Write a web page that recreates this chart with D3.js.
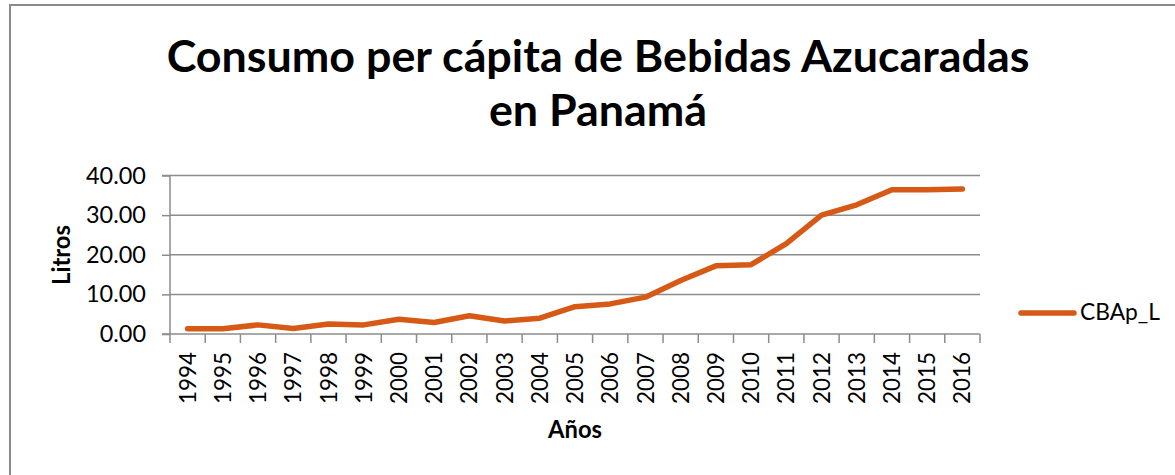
<!DOCTYPE html>
<html><head><meta charset="utf-8">
<script src="https://cdn.jsdelivr.net/npm/d3@7"></script>
<style>body{margin:0;background:#fff}svg{display:block}text{font-family:Lato,"Open Sans",sans-serif;fill:#000}</style>
</head><body><svg id="c" width="1175" height="475"></svg>
<script>
const years = ["1994","1995","1996","1997","1998","1999","2000","2001","2002","2003","2004","2005","2006","2007","2008","2009","2010","2011","2012","2013","2014","2015","2016"];
const values = [1.3,1.3,2.3,1.4,2.5,2.3,3.7,2.9,4.6,3.3,4.0,6.9,7.6,9.3,13.5,17.2,17.5,22.8,30.0,32.6,36.4,36.4,36.6];
const yTicks = [0,10,20,30,40];
const titleLines = ["Consumo per cápita de Bebidas Azucaradas","en Panamá"];
const seriesName = "CBAp_L";

const svg = d3.select("#c");
const W = 1175, H = 475;
const m = {left:170, right:980, top:175.5, bottom:334};
const color = "#d65a16", grid = "#8c8c8c";

svg.append("rect").attr("x",10).attr("y",5).attr("width",W+20).attr("height",H+20)
  .attr("fill","none").attr("stroke","#8a8a8a").attr("stroke-width",2);

const x = d3.scaleBand().domain(years).range([m.left,m.right]);
const y = d3.scaleLinear().domain([0,40]).range([m.bottom,m.top]);

function fitSize(t, target){
  const w = t.node().getComputedTextLength();
  const fs = parseFloat(t.attr("font-size"));
  return fs*target/w;
}

svg.append("g").selectAll("line").data(yTicks.filter(d=>d>0)).join("line")
  .attr("x1",m.left).attr("x2",m.right).attr("y1",d=>y(d)).attr("y2",d=>y(d))
  .attr("stroke",grid).attr("stroke-width",1.5);

const ya = svg.append("g").attr("transform",`translate(${m.left},0)`)
  .call(d3.axisLeft(y).tickValues(yTicks).tickSize(8).tickPadding(16).tickFormat(d3.format(".2f")));
ya.select(".domain").attr("stroke",grid).attr("stroke-width",1.5).attr("d",`M-8,${m.bottom}H0V${m.top}H-8`);
ya.selectAll(".tick line").attr("stroke",grid).attr("stroke-width",1.5);
const yts = ya.selectAll(".tick text").attr("font-family","Lato").attr("font-size",22).attr("fill","#000");
const yfs = fitSize(ya.selectAll(".tick text").filter(d=>d===40), 60);
yts.attr("font-size", yfs);

const xa = svg.append("g").attr("transform",`translate(0,${m.bottom})`)
  .call(d3.axisBottom(x).tickSize(0).tickPadding(0));
xa.select(".domain").attr("stroke",grid).attr("stroke-width",1.5).attr("d",`M${m.left},0H${m.right}`);
const xts = xa.selectAll(".tick text").attr("font-family","Lato").attr("font-size",22).attr("fill","#000")
  .attr("transform","rotate(-90)").attr("text-anchor","end").attr("dy","0.36em").attr("x",-18).attr("y",0);
const xfs = fitSize(xa.selectAll(".tick text").filter(d=>d==="1994"), 52);
xts.attr("font-size", xfs);

const bounds = years.map(d=>x(d)).concat([m.right]);
svg.append("g").selectAll("line").data(bounds).join("line")
  .attr("x1",d=>d).attr("x2",d=>d).attr("y1",m.bottom).attr("y2",m.bottom+9)
  .attr("stroke",grid).attr("stroke-width",1.5);

const line = d3.line().x((d,i)=>x(years[i])+x.bandwidth()/2).y(d=>y(d));
svg.append("path").datum(values).attr("d",line).attr("fill","none")
  .attr("stroke",color).attr("stroke-width",5.5).attr("stroke-linecap","round").attr("stroke-linejoin","round");

const t1 = svg.append("text").attr("x",598).attr("y",72).attr("text-anchor","middle")
  .attr("font-weight","bold").attr("font-size",38).text(titleLines[0]);
const tfs = fitSize(t1,863);
t1.attr("font-size",tfs);
svg.append("text").attr("x",598).attr("y",126).attr("text-anchor","middle")
  .attr("font-weight","bold").attr("font-size",tfs).text(titleLines[1]);

const yl = svg.append("text").attr("transform",`translate(70,255) rotate(-90)`).attr("text-anchor","middle")
  .attr("font-weight","bold").attr("font-size",19).text("Litros");
yl.attr("font-size", fitSize(yl,60));
const xl = svg.append("text").attr("x",575).attr("y",438).attr("text-anchor","middle")
  .attr("font-weight","bold").attr("font-size",19).text("Años");
xl.attr("font-size", fitSize(xl,54));

svg.append("line").attr("x1",1021).attr("x2",1074).attr("y1",313).attr("y2",313)
  .attr("stroke",color).attr("stroke-width",5.5).attr("stroke-linecap","round");
const lt = svg.append("text").attr("x",1080).attr("y",320).attr("font-size",21).text(seriesName);
lt.attr("font-size", fitSize(lt,80));
</script></body></html>
